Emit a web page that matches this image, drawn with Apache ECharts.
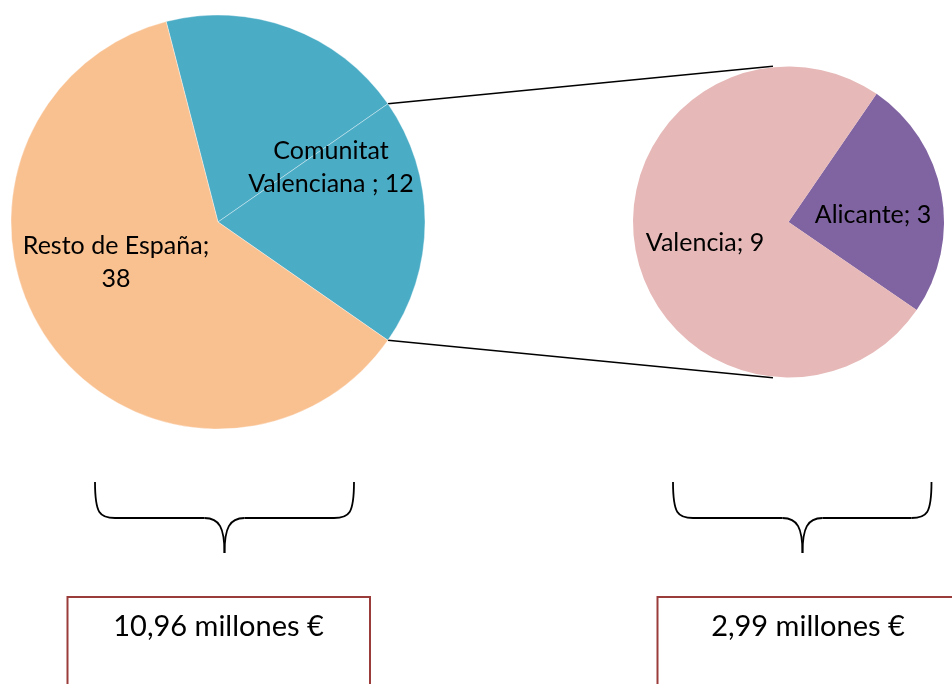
<!DOCTYPE html>
<html>
<head>
<meta charset="utf-8">
<script src="https://cdn.jsdelivr.net/npm/echarts@6/dist/echarts.min.js"></script>
<style>
html,body{margin:0;padding:0;background:#fff;}
#chart{width:952px;height:684px;}
</style>
</head>
<body>
<div id="chart"></div>
<script>
// ---- data ----
const mainNames = ['Comunitat Valenciana', 'Resto de España'];
const mainValues = [12, 38];
const detailNames = ['Valencia', 'Alicante'];
const detailValues = [9, 3];
const totalLabels = ['10,96 millones €', '2,99 millones €'];

// ---- layout / style ----
const FONT = 'Lato';
const L = { cx: 218, cy: 222, r: 207, start: 104.5 };
const R = { cx: 788.5, cy: 222, r: 155.5, start: 55.5 };
const C = { orange: '#F9C090', blue: '#4BACC6', pink: '#E6B9B8', purple: '#8064A2', box: '#993C3A' };
const labelCenters = {
  main: [[331, 167], null, [116, 262]],
  detail: [[873, 215], [705, 243]]
};

const otherValue = detailValues.reduce((a, b) => a + b, 0);

const leftData = [
  { name: mainNames[0], value: mainValues[0], itemStyle: { color: C.blue },
    label: { formatter: 'Comunitat\nValenciana ; {c}' } },
  { name: 'Otros', value: otherValue, itemStyle: { color: C.blue }, label: { show: false } },
  { name: mainNames[1], value: mainValues[1], itemStyle: { color: C.orange },
    label: { formatter: '{b};\n{c}' } }
];
// clockwise from start: Alicante, then Valencia
const rightData = [
  { name: detailNames[1], value: detailValues[1], itemStyle: { color: C.purple } },
  { name: detailNames[0], value: detailValues[0], itemStyle: { color: C.pink } }
];

function pt(p, degFromNorth, rad) {
  const a = degFromNorth * Math.PI / 180;
  return [p.cx + rad * Math.sin(a), p.cy - rad * Math.cos(a)];
}
// Geometry of the "other" slice edges on the main pie
const leftTotal = mainValues[0] + otherValue + mainValues[1];
const a0 = 90 - L.start + mainValues[0] / leftTotal * 360;
const a1 = a0 + otherValue / leftTotal * 360;
const pTop = pt(L, a0, L.r);
const pBot = pt(L, a1, L.r);
const qTop = pt(R, -5.7, R.r + 1);
const qBot = pt(R, 185.7, R.r + 1);

function brace(x0, x1, xm, yTop, yMid, yTip) {
  const s = { stroke: '#000', lineWidth: 1.8, fill: null };
  return [
    { type: 'bezierCurve', shape: { x1: x0, y1: yTop, x2: x0 + 20, y2: yMid, cpx1: x0, cpy1: yMid - 4, cpx2: x0 + 5, cpy2: yMid }, style: s },
    { type: 'line', shape: { x1: x0 + 20, y1: yMid, x2: xm - 20, y2: yMid }, style: s },
    { type: 'bezierCurve', shape: { x1: xm - 20, y1: yMid, x2: xm, y2: yTip, cpx1: xm - 5, cpy1: yMid, cpx2: xm, cpy2: yMid + 10 }, style: s },
    { type: 'bezierCurve', shape: { x1: xm, y1: yTip, x2: xm + 20, y2: yMid, cpx1: xm, cpy1: yMid + 10, cpx2: xm + 5, cpy2: yMid }, style: s },
    { type: 'line', shape: { x1: xm + 20, y1: yMid, x2: x1 - 20, y2: yMid }, style: s },
    { type: 'bezierCurve', shape: { x1: x1 - 20, y1: yMid, x2: x1, y2: yTop, cpx1: x1 - 5, cpy1: yMid, cpx2: x1, cpy2: yMid - 4 }, style: s }
  ];
}

const labelStyle = { color: '#000', fontFamily: FONT, fontSize: 25, lineHeight: 33 };

const chart = echarts.init(document.getElementById('chart'), null, { renderer: 'canvas' });
chart.setOption({
  backgroundColor: '#fff',
  animation: false,
  textStyle: { fontFamily: FONT },
  series: [
    {
      type: 'pie', center: [L.cx, L.cy], radius: [0, L.r], startAngle: L.start,
      clockwise: true, avoidLabelOverlap: false, silent: true,
      itemStyle: { borderColor: 'rgba(255,255,255,0.6)', borderWidth: 0.6 },
      label: Object.assign({ show: true, position: 'inside', align: 'center' }, labelStyle),
      labelLine: { show: false },
      labelLayout: p => {
        const c = labelCenters.main[p.dataIndex];
        return c ? { x: c[0], y: c[1], align: 'center', verticalAlign: 'middle' } : {};
      },
      data: leftData
    },
    {
      type: 'pie', center: [R.cx, R.cy], radius: [0, R.r], startAngle: R.start,
      clockwise: true, avoidLabelOverlap: false, silent: true,
      itemStyle: { borderWidth: 0 },
      label: Object.assign({ show: true, position: 'inside', formatter: '{b}; {c}' }, labelStyle),
      labelLine: { show: false },
      labelLayout: p => {
        const c = labelCenters.detail[p.dataIndex];
        return { x: c[0], y: c[1], align: 'center', verticalAlign: 'middle' };
      },
      data: rightData
    }
  ],
  graphic: [
    { type: 'line', shape: { x1: pTop[0], y1: pTop[1], x2: qTop[0], y2: qTop[1] }, style: { stroke: '#000', lineWidth: 1.5 } },
    { type: 'line', shape: { x1: pBot[0], y1: pBot[1], x2: qBot[0], y2: qBot[1] }, style: { stroke: '#000', lineWidth: 1.5 } },
    ...brace(95, 354, 224.5, 482, 518, 553),
    ...brace(673, 931.5, 802.5, 482, 518, 553),
    { type: 'rect', shape: { x: 67.5, y: 597, width: 302.5, height: 120 }, style: { stroke: C.box, lineWidth: 2, fill: '#fff' } },
    { type: 'rect', shape: { x: 657.5, y: 597, width: 330, height: 120 }, style: { stroke: C.box, lineWidth: 2, fill: '#fff' } },
    { type: 'text', x: 218.5, y: 627, style: { text: totalLabels[0], fill: '#000', font: '29px ' + FONT, align: 'center', verticalAlign: 'middle' } },
    { type: 'text', x: 808, y: 627, style: { text: totalLabels[1], fill: '#000', font: '29px ' + FONT, align: 'center', verticalAlign: 'middle' } }
  ]
});
</script>
</body>
</html>
